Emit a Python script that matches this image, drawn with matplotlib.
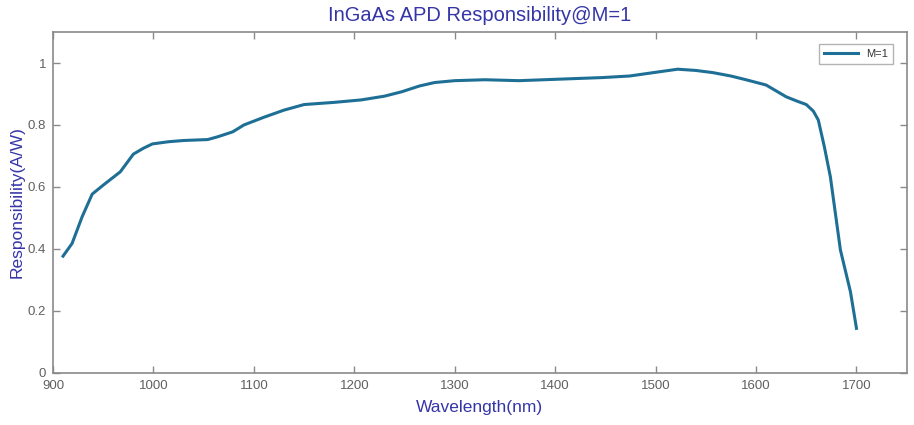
import matplotlib
matplotlib.use("Agg")
import matplotlib.pyplot as plt

wavelength = [910, 919, 929, 939, 950, 967, 980, 990, 999, 1015, 1030, 1054, 1064, 1079, 1090,
              1110, 1130, 1150, 1180, 1207, 1230, 1247, 1265, 1280, 1300, 1330, 1364, 1397,
              1447, 1474, 1500, 1522, 1540, 1557, 1575, 1590, 1610, 1620, 1630, 1640, 1650,
              1657, 1662, 1668, 1674, 1684, 1694, 1700]
responsivity = [0.377, 0.418, 0.504, 0.577, 0.606, 0.649, 0.706, 0.725, 0.739, 0.746,
                0.750, 0.753, 0.762, 0.778, 0.800, 0.825, 0.848, 0.866, 0.873, 0.881,
                0.893, 0.907, 0.926, 0.937, 0.943, 0.946, 0.943, 0.947, 0.953, 0.958,
                0.970, 0.980, 0.976, 0.969, 0.958, 0.946, 0.929, 0.910, 0.891, 0.878,
                0.866, 0.845, 0.816, 0.730, 0.633, 0.397, 0.262, 0.144]
series_label = "M=1"
x_ticks = [900, 1000, 1100, 1200, 1300, 1400, 1500, 1600, 1700]
y_ticks = [0, 0.2, 0.4, 0.6, 0.8, 1.0]
y_tick_labels = ["0", "0.2", "0.4", "0.6", "0.8", "1"]

plt.rcParams['font.family'] = ['Liberation Sans', 'DejaVu Sans']

fig = plt.figure(figsize=(9.14, 4.25), dpi=100)
ax = fig.add_axes([0.058, 0.1224, 0.934, 0.8023])

ax.plot(wavelength, responsivity, color='#1e6f95', linewidth=2.2, label=series_label,
        solid_joinstyle='round')

ax.set_xlim(900, 1750)
ax.set_ylim(0, 1.1)
ax.set_xticks(x_ticks)
ax.set_yticks(y_ticks)
ax.set_yticklabels(y_tick_labels)

for s in ax.spines.values():
    s.set_color('#8a8a8a')
    s.set_linewidth(1.2)
ax.tick_params(direction='in', top=True, right=True, length=5, width=1,
               color='#8a8a8a', labelcolor='#606060', labelsize=9.5, pad=5)

title_col = '#3535a8'
ax.set_title("InGaAs APD Responsibility@M=1", color=title_col, fontsize=14.5, pad=8)
ax.set_xlabel("Wavelength(nm)", color=title_col, fontsize=12.5, labelpad=6)
ax.set_ylabel("Responsibility(A/W)", color=title_col, fontsize=12.5, labelpad=2)

leg = ax.legend(loc='upper right', fontsize=8, frameon=True, fancybox=False,
                edgecolor='#a0a0a0', handlelength=3, borderpad=0.45,
                bbox_to_anchor=(0.991, 0.98))
leg.get_frame().set_linewidth(1.0)
for t in leg.get_texts():
    t.set_color('#333333')

fig.savefig("out.png", dpi=100)
